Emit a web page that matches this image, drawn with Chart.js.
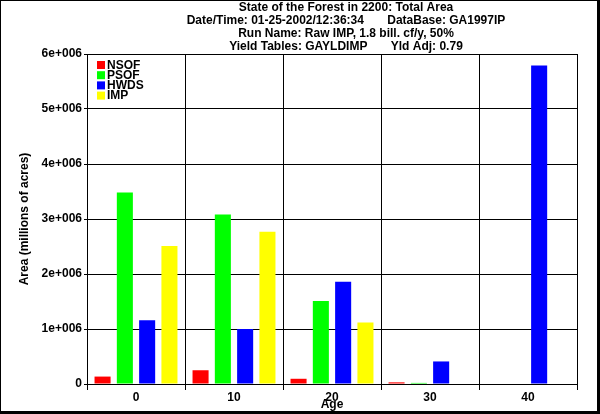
<!DOCTYPE html>
<html>
<head>
<meta charset="utf-8">
<script src="https://cdn.jsdelivr.net/npm/chart.js@4.4.1/dist/chart.umd.min.js"></script>
<style>
  html, body { margin: 0; padding: 0; background: #fff; }
  #wrap { width: 600px; height: 414px; }
</style>
</head>
<body>
<div id="wrap"><canvas id="forest" width="600" height="414"></canvas></div>
<script>
// age classes along the bottom
const ages = ["0", "10", "20", "30", "40"];

// area per forest type, acres
const nsof = [135000, 250000, 95000, 30000, 0];
const psof = [3480000, 3080000, 1510000, 20000, 0];
const hwds = [1160000, 1000000, 1860000, 410000, 5790000];
const imp = [2510000, 2770000, 1120000, 0, 0];

const seriesNames = ["NSOF", "PSOF", "HWDS", "IMP"];
const seriesColors = ["#ff0000", "#00ff00", "#0000ff", "#ffff00"];

const titleLines = [
    "State of the Forest in 2200: Total Area",
    "Date/Time: 01-25-2002/12:36:34       DataBase: GA1997IP",
    "Run Name: Raw IMP, 1.8 bill. cf/y, 50%",
    "Yield Tables: GAYLDIMP       Yld Adj: 0.79"
];

const fontFam = "'Liberation Sans', Arial, sans-serif";

//white page + frame round the whole picture
const framePlugin = {
    id: "frame",
    beforeDraw(chart) {
        const c = chart.ctx;
        c.save();
        c.fillStyle = "#fff";
        c.fillRect(0, 0, chart.width, chart.height);
        c.restore();
    },
    afterDraw(chart) {
        const c = chart.ctx;
        const w = chart.width, h = chart.height;
        c.save();
        c.fillStyle = "#000";
        c.fillRect(0, 0, w, 1);
        c.fillRect(0, 0, 1, h);
        c.fillRect(w - 3, 0, 3, h);
        c.fillRect(0, h - 3, w, 3);
        c.restore();
    }
};

//four title lines above the plot
const headerPlugin = {
    id: "header",
    afterDraw(chart) {
        const c = chart.ctx;
        c.save();
        c.fillStyle = "#000";
        c.font = "bold 12px " + fontFam;
        c.textAlign = "center";
        c.textBaseline = "alphabetic";
        const cx = 346;
        titleLines.forEach((t, i) => {
            c.fillText(t, cx, 11 + i * 13);
        });
        c.restore();
    }
};

//legend tucked into the top left corner of the plot
const cornerLegend = {
    id: "cornerLegend",
    afterDatasetsDraw(chart) {
        const c = chart.ctx;
        const a = chart.chartArea;
        c.save();
        c.font = "bold 12px " + fontFam;
        c.textBaseline = "middle";
        c.textAlign = "left";
        chart.data.datasets.forEach((ds, i) => {
            const y = a.top + 11 + i * 10.2;
            c.fillStyle = ds.backgroundColor;
            c.fillRect(a.left + 10, y - 4, 8, 8);
            c.fillStyle = "#000";
            c.fillText(ds.label, a.left + 20, y + 0.5);
        });
        c.restore();
    }
};

const seriesData = [nsof, psof, hwds, imp];

const expLabel = (v) => {
    if (v === 0) return "0";
    const p = Math.floor(Math.log10(v) + 1e-9);
    const m = Math.round(v / Math.pow(10, p) * 100) / 100;
    return m + "e+" + String(p).padStart(3, "0");
};

new Chart(document.getElementById("forest"), {
    type: "bar",
    plugins: [framePlugin, headerPlugin, cornerLegend],
    data: {
        labels: ages,
        datasets: seriesNames.map((n, i) => ({
            label: n,
            data: seriesData[i],
            backgroundColor: seriesColors[i],
            borderWidth: 0,
            categoryPercentage: 0.91,
            barPercentage: 0.72
        }))
    },
    options: {
        responsive: false,
        animation: false,
        devicePixelRatio: 1,
        layout: { padding: { left: 0, top: 54, right: 23, bottom: 0 } },
        plugins: {
            legend: { display: false },
            tooltip: { enabled: false },
            title: { display: false }
        },
        scales: {
            x: {
                offset: true,
                grid: {
                    offset: true,
                    color: "#000",
                    lineWidth: 1,
                    tickLength: 6,
                    drawOnChartArea: true
                },
                border: { color: "#000", width: 1 },
                ticks: {
                    color: "#000",
                    font: { family: fontFam, size: 12, weight: "bold" },
                    padding: 0,
                    maxRotation: 0
                },
                title: {
                    display: true,
                    text: "Age",
                    color: "#000",
                    font: { family: fontFam, size: 12, weight: "bold" },
                    padding: { top: 0, bottom: 2 }
                },
                afterFit(s) { s.height = 30; }
            },
            y: {
                min: 0,
                max: 6000000,
                grid: {
                    color: "#000",
                    lineWidth: 1,
                    tickLength: 3
                },
                border: { color: "#000", width: 1 },
                ticks: {
                    stepSize: 1000000,
                    color: "#000",
                    padding: 2,
                    font: { family: fontFam, size: 12, weight: "bold" },
                    callback: (v) => expLabel(v)
                },
                title: {
                    display: true,
                    text: "Area (millions of acres)",
                    color: "#000",
                    font: { family: fontFam, size: 12, weight: "bold" },
                    padding: { top: 17, bottom: 0 }
                },
                afterFit(s) { s.width = 87; }
            }
        }
    }
});
</script>
</body>
</html>
